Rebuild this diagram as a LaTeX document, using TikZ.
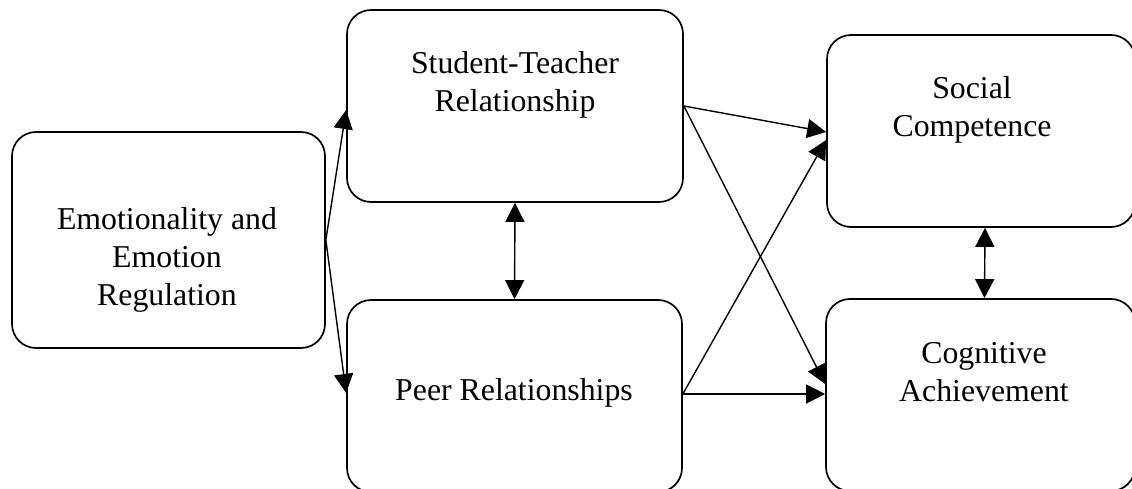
\documentclass[tikz,border=0pt]{standalone}
\usepackage{fontspec}
\setmainfont{Liberation Serif}
\usetikzlibrary{arrows.meta}
\begin{document}
\begin{tikzpicture}[x=1pt,y=-1pt,
  box/.style={draw, line width=1.7pt, rounded corners=24pt, inner sep=0pt},
  lbl/.style={align=center, anchor=base, font=\fontsize{31.8}{38}\selectfont, inner sep=0pt},
  arr/.style={line width=1.4pt, -{Triangle[length=19pt,width=19pt]}},
  darr/.style={line width=1.4pt, {Triangle[length=19pt,width=19pt]}-{Triangle[length=19pt,width=19pt]}}]
\useasboundingbox (0,0) rectangle (1132,489);
% boxes
\node[box, minimum width=313pt, minimum height=216pt] (L) at (168.5,240) {};
\node[box, minimum width=336pt, minimum height=192pt] (ST) at (515,106) {};
\node[box, minimum width=335pt, minimum height=192pt] (P) at (514.5,396) {};
\node[box, minimum width=308pt, minimum height=192pt] (SC) at (981,131) {};
\node[box, minimum width=309pt, minimum height=192pt] (CA) at (980.5,395) {};
% texts (base anchor = last line's baseline)
\node[lbl] (tL) at (167,305) {Emotionality and\\Emotion\\Regulation};
\node[lbl] (tST) at (515,112) {Student-Teacher\\Relationship};
\node[lbl] (tP) at (514,400) {Peer Relationships};
\node[lbl] (tSC) at (972,137) {Social\\Competence};
\node[lbl] (tCA) at (984,401) {Cognitive\\Achievement};
% connectors
\draw[arr] (L.east) -- ([yshift=-4pt]ST.west);
\draw[arr] (L.east) -- ([yshift=3pt]P.west);
\draw[darr] (ST.south) -- (P.north);
\draw[darr] ([xshift=4pt]SC.south) -- ([xshift=4pt]CA.north);
\draw[arr] (ST.east) -- ([yshift=-1pt]SC.west);
\draw[arr] (ST.east) -- ([yshift=11pt]CA.west);
\draw[arr] ([yshift=2pt]P.east) -- ([yshift=-9pt]SC.west);
\draw[arr] ([yshift=2pt]P.east) -- ([yshift=1pt]CA.west);
\end{tikzpicture}
\end{document}
